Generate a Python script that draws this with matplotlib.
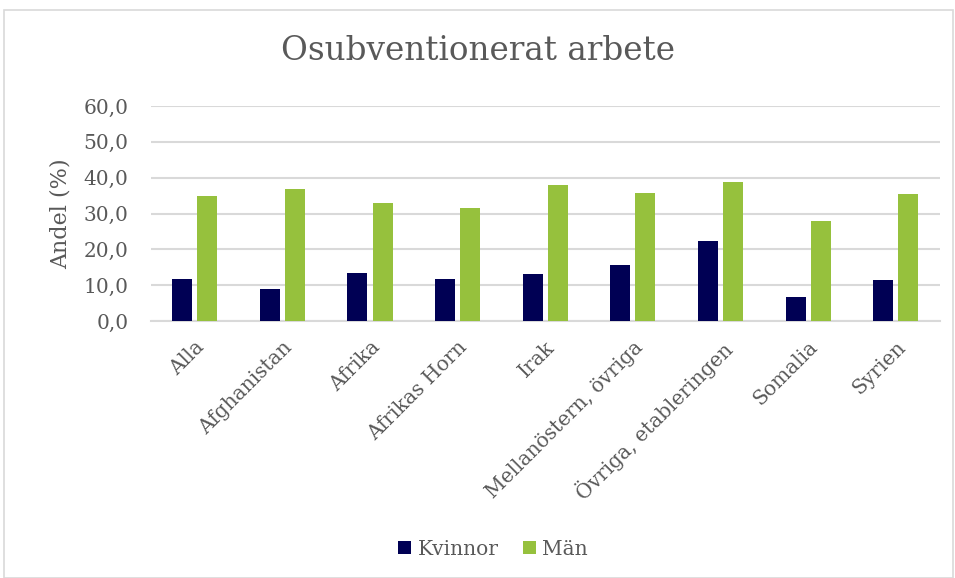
import numpy as np
import matplotlib
matplotlib.use("Agg")
import matplotlib.pyplot as plt
from matplotlib.patches import Rectangle

categories = ["Alla", "Afghanistan", "Afrika", "Afrikas Horn", "Irak",
              "Mellanöstern, övriga", "Övriga, etableringen", "Somalia", "Syrien"]
kvinnor = [11.7, 9.0, 13.3, 11.7, 13.0, 15.5, 22.3, 6.6, 11.5]
man = [35.0, 36.9, 32.9, 31.4, 38.0, 35.8, 38.7, 27.8, 35.5]
yticks = [0, 10, 20, 30, 40, 50, 60]

plt.rcParams['font.family'] = ['DejaVu Serif']
txt = '#595959'

fig = plt.figure(figsize=(9.55, 5.78), dpi=100)
fig.patches.append(Rectangle((0.004, 0.0), 0.994, 0.983, transform=fig.transFigure,
                             fill=False, edgecolor='#d9d9d9', linewidth=1.2))
ax = fig.add_axes([0.158, 0.4446, 0.826, 0.372])

x = np.arange(len(categories))
w = 0.228
ax.bar(x - 0.143, kvinnor, w, color='#000054', label='Kvinnor', zorder=3)
ax.bar(x + 0.143, man, w, color='#96c13d', label='Män', zorder=3)

ax.set_xlim(-0.5, len(categories) - 0.5)
ax.set_ylim(0, 60)
ax.set_yticks(yticks)
ax.set_yticklabels([f"{v:.1f}".replace('.', ',') for v in yticks], fontsize=14.5, color=txt)
ax.yaxis.grid(True, color='#d9d9d9', linewidth=1.5, zorder=0)
ax.tick_params(axis='y', length=0, pad=16)
ax.tick_params(axis='x', length=0, pad=12)
ax.set_xticks(x)
ax.set_xticklabels(categories, rotation=45, ha='right', rotation_mode='anchor',
                   fontsize=14.5, color=txt)
for s in ['top', 'right', 'left']:
    ax.spines[s].set_visible(False)
ax.spines['bottom'].set_color('#d9d9d9')
ax.spines['bottom'].set_linewidth(1.5)

ax.set_ylabel('Andel (%)', fontsize=16, color=txt, labelpad=9)
fig.text(0.5, 0.912, 'Osubventionerat arbete', ha='center', va='center',
         fontsize=23.5, color=txt)
fig.legend(loc='center', bbox_to_anchor=(0.516, 0.05), ncol=2, frameon=False,
           fontsize=14.5, labelcolor=txt, handlelength=0.65, handleheight=0.65,
           handletextpad=0.3, columnspacing=1.2)

fig.savefig('out.png', dpi=100)
